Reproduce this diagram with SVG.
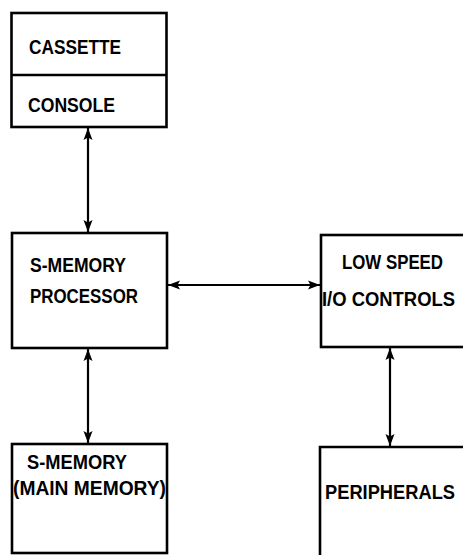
<svg xmlns="http://www.w3.org/2000/svg" width="463" height="555" viewBox="0 0 463 555">
<style>
.box{fill:none;stroke:#000;stroke-width:2.6}
.t{font-family:"Liberation Sans",Arial,sans-serif;font-weight:bold;font-size:19.5px;fill:#000}
.c{stroke:#000;stroke-width:2.2;fill:none;marker-start:url(#ah);marker-end:url(#ah)}
</style>
<defs>
<marker id="ah" markerUnits="userSpaceOnUse" markerWidth="13" markerHeight="11" viewBox="0 0 13 11" refX="12" refY="5.5" orient="auto-start-reverse">
<path d="M0,1 L12,5.5 L0,10 L2.5,5.5 Z" fill="#000"/>
</marker>
</defs>
<rect width="463" height="555" fill="#fff"/>
<g id="connectors">
<line class="c" x1="88" y1="128" x2="88" y2="232"/>
<line class="c" x1="88" y1="349" x2="88" y2="443"/>
<line class="c" x1="168" y1="285" x2="320" y2="285"/>
<line class="c" x1="390" y1="348" x2="390" y2="446"/>
</g>
<g id="cassette-console">
<rect class="box" x="11.5" y="13" width="155" height="114"/>
<line class="box" x1="11.5" y1="75" x2="166.5" y2="75"/>
<text class="t" x="29" y="54" textLength="92" lengthAdjust="spacingAndGlyphs">CASSETTE</text>
<text class="t" x="28" y="112" textLength="87" lengthAdjust="spacingAndGlyphs">CONSOLE</text>
</g>
<g id="processor">
<rect class="box" x="12" y="233" width="155" height="115"/>
<text class="t" x="30" y="272" textLength="96" lengthAdjust="spacingAndGlyphs">S-MEMORY</text>
<text class="t" x="30" y="303" textLength="108" lengthAdjust="spacingAndGlyphs">PROCESSOR</text>
</g>
<g id="io-controls">
<rect class="box" x="321" y="235" width="160" height="112"/>
<text class="t" x="342" y="269" textLength="101" lengthAdjust="spacingAndGlyphs">LOW SPEED</text>
<text class="t" x="322" y="306" textLength="133" lengthAdjust="spacingAndGlyphs">I/O CONTROLS</text>
</g>
<g id="main-memory">
<rect class="box" x="12" y="444" width="155" height="109"/>
<text class="t" x="27" y="469" textLength="100" lengthAdjust="spacingAndGlyphs">S-MEMORY</text>
<text class="t" x="13" y="495" textLength="153" lengthAdjust="spacingAndGlyphs">(MAIN MEMORY)</text>
</g>
<g id="peripherals">
<path class="box" d="M320,560 V447 H470"/>
<text class="t" x="325" y="499" textLength="130" lengthAdjust="spacingAndGlyphs">PERIPHERALS</text>
</g>
</svg>
